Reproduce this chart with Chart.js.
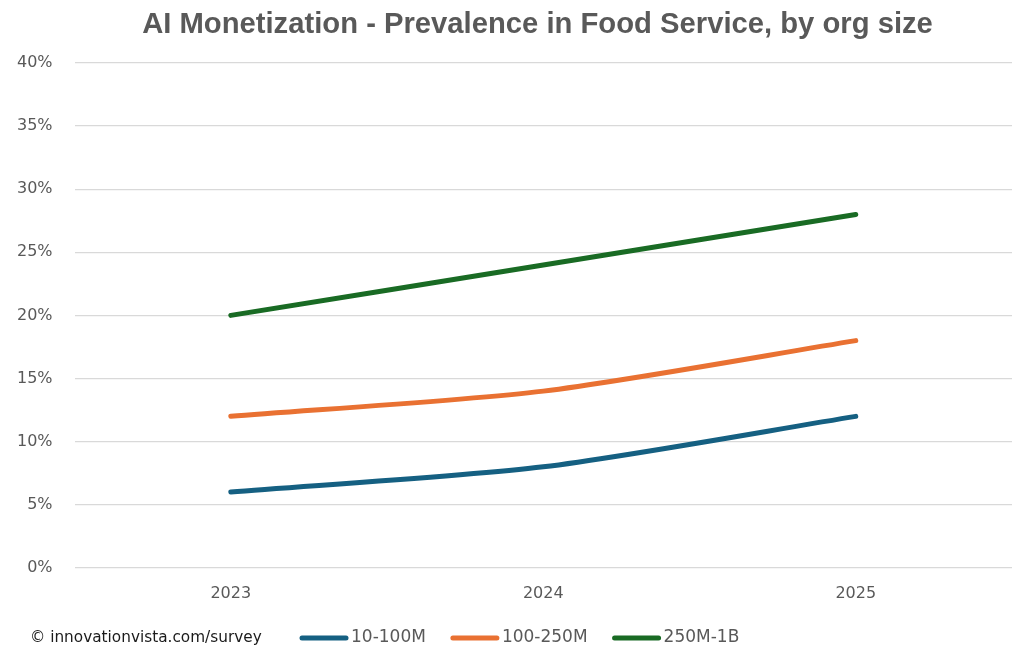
<!DOCTYPE html>
<html>
<head>
<meta charset="utf-8">
<script src="https://cdn.jsdelivr.net/npm/chart.js@4.4.1/dist/chart.umd.min.js"></script>
<style>
  html, body { margin: 0; padding: 0; background: #fff; }
  #wrap { width: 1024px; height: 653px; }
</style>
</head>
<body>
<div id="wrap"><canvas id="myChart"></canvas></div>
<script>
const years = ['2023', '2024', '2025'];
const small = [6, 8, 12];
const mid = [12, 14, 18];
const large = [20, 24, 28];
const seriesNames = ['10-100M', '100-250M', '250M-1B'];
const colors = ['#156082', '#E97132', '#196B24'];
const titleText = 'AI Monetization - Prevalence in Food Service, by org size';
const credit = '\u00A9 innovationvista.com/survey';

const plain = '"DejaVu Sans", sans-serif';
const titleFamily = '"Liberation Sans", Arial, sans-serif';

// pick a font size that makes text about a given width
function fitSize(ctx, text, weight, family, width) {
  ctx.font = weight + ' 100px ' + family;
  return 100 * width / ctx.measureText(text).width;
}

// title, copyright note and legend drawn by hand
const decorations = {
  id: 'decorations',
  afterDraw(chart) {
    const ctx = chart.ctx;
    ctx.save();

    const ts = fitSize(ctx, titleText, 'bold', titleFamily, 791);
    ctx.font = 'bold ' + ts + 'px ' + titleFamily;
    ctx.fillStyle = '#595959';
    ctx.textAlign = 'center';
    ctx.textBaseline = 'alphabetic';
    ctx.fillText(titleText, 537.5, 33);

    const y = 638;
    ctx.textAlign = 'left';
    ctx.textBaseline = 'middle';
    const cs = fitSize(ctx, credit, '', plain, 232);
    ctx.font = cs + 'px ' + plain;
    ctx.fillStyle = '#1a1a1a';
    ctx.fillText(credit, 30, y);

    let x = 300;
    ctx.font = '17px ' + plain;
    chart.data.datasets.forEach(ds => {
      ctx.strokeStyle = ds.borderColor;
      ctx.lineWidth = 5;
      ctx.lineCap = 'round';
      ctx.beginPath();
      ctx.moveTo(x + 2, y);
      ctx.lineTo(x + 46, y);
      ctx.stroke();
      ctx.fillStyle = '#595959';
      ctx.fillText(ds.label, x + 51, y);
      x += 51 + ctx.measureText(ds.label).width + 25;
    });
    ctx.restore();
  }
};

const data = {
  labels: years,
  datasets: [small, mid, large].map((vals, i) => ({
    label: seriesNames[i],
    data: vals,
    borderColor: colors[i],
    backgroundColor: colors[i],
    borderWidth: 5,
    pointRadius: 0,
    tension: 0.25,
    borderCapStyle: 'round',
    fill: false,
  })),
};

const config = {
  type: 'line',
  data,
  options: {
    responsive: true,
    maintainAspectRatio: false,
    animation: false,
    layout: { padding: { left: -5, right: 12, top: 63, bottom: 42 } },
    plugins: {
      legend: { display: false },
      tooltip: { enabled: false },
      title: { display: false },
    },
    scales: {
      x: {
        offset: true,
        grid: { display: false },
        border: { display: false },
        ticks: { color: '#595959', font: { family: plain, size: 16 }, padding: 8 },
      },
      y: {
        min: 0,
        max: 40,
        grid: { color: '#d9d9d9', lineWidth: 1.3, drawTicks: false },
        border: { display: false },
        ticks: {
          stepSize: 5,
          color: '#595959',
          padding: 22,
          font: { family: plain, size: 16 },
          callback: v => v + '%',
        },
      },
    },
  },
  plugins: [decorations],
};

const myChart = new Chart(document.getElementById('myChart'), config);
</script>
</body>
</html>
